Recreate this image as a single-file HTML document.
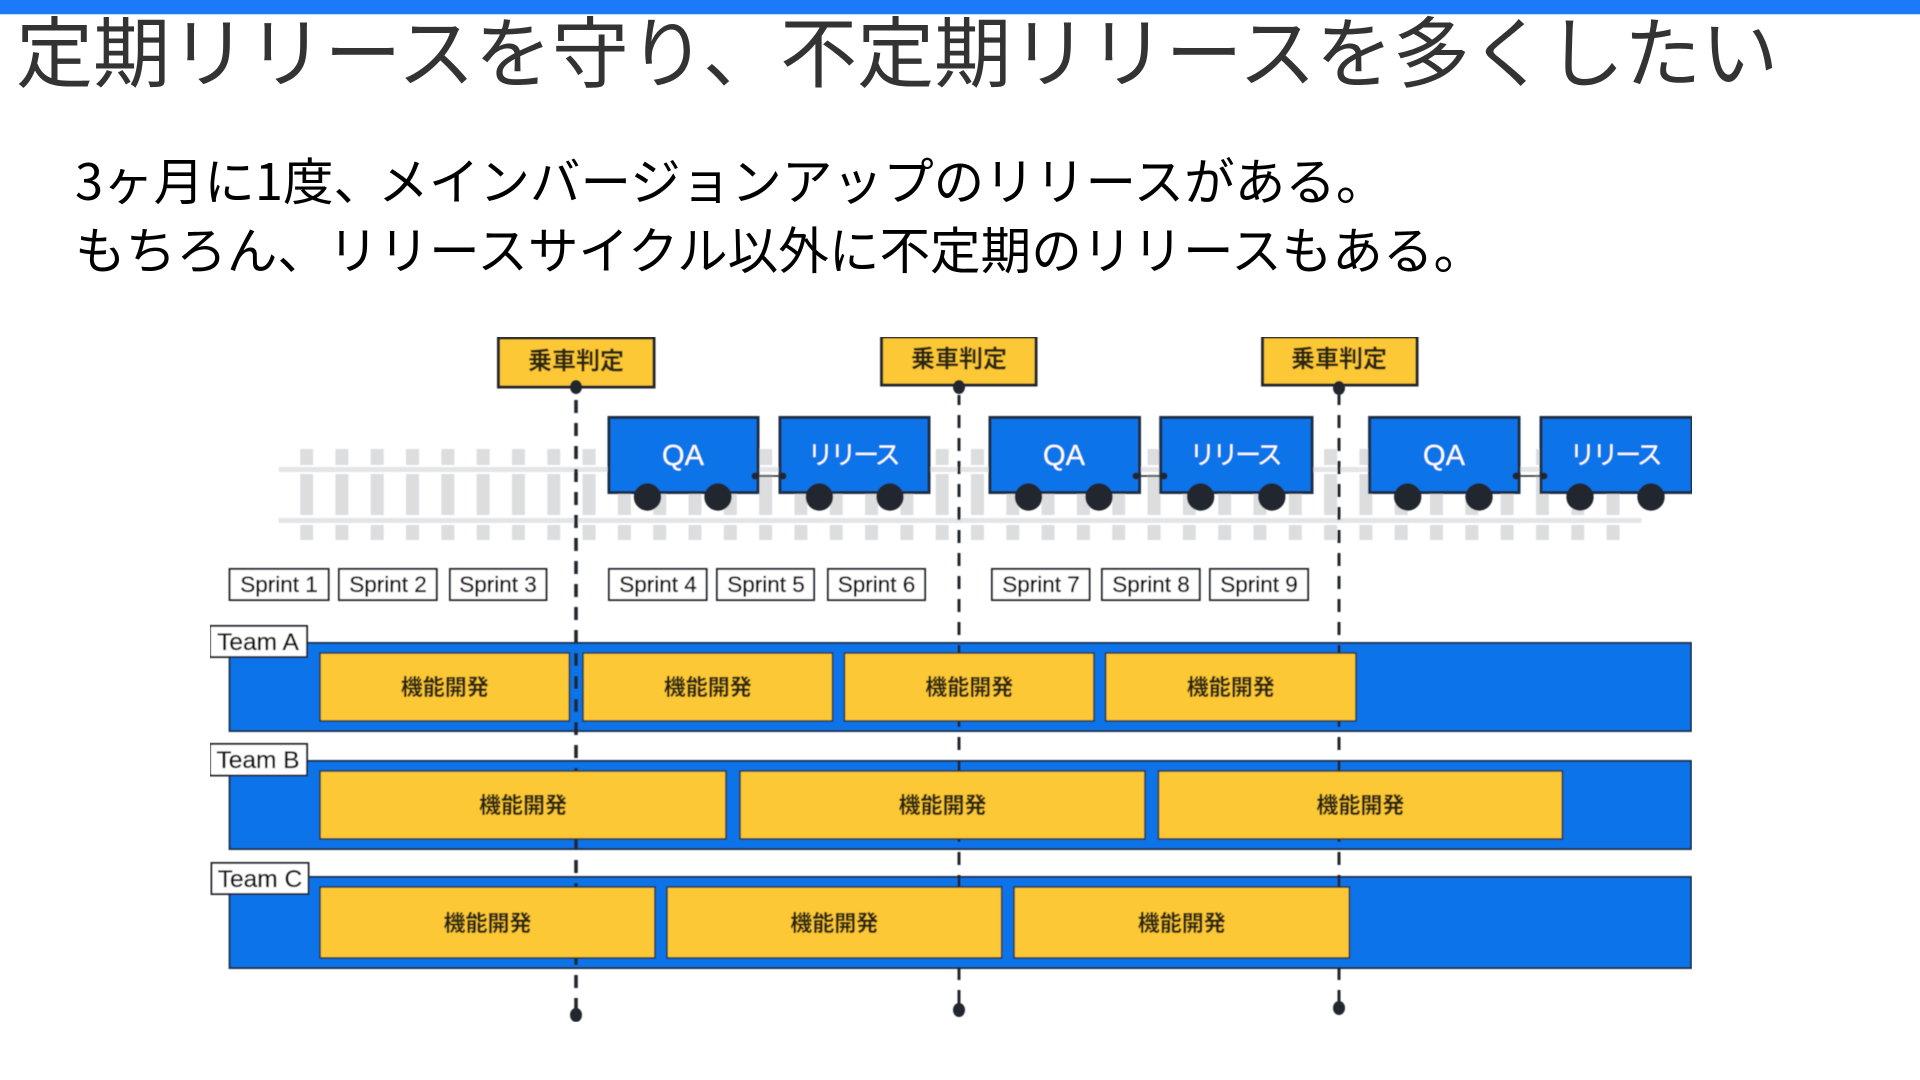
<!DOCTYPE html>
<html lang="ja">
<head>
<meta charset="utf-8">
<title>定期リリース</title>
<style>
html,body{margin:0;padding:0;background:#fff;width:1920px;height:1080px;overflow:hidden}
svg{display:block;position:absolute;left:0;top:0}
text{font-family:"Noto Sans CJK JP","Liberation Sans",sans-serif}
.lat{font-family:"Liberation Sans","Noto Sans CJK JP",sans-serif;stroke:#111;stroke-width:.35}
.latw{font-family:"Liberation Sans","Noto Sans CJK JP",sans-serif}
</style>
</head>
<body>
<svg width="1920" height="1080" viewBox="0 0 1920 1080" xmlns="http://www.w3.org/2000/svg">
<defs>
<pattern id="ties" patternUnits="userSpaceOnUse" x="300.1" y="449" width="35.31" height="91">
<rect x="0" y="0" width="13" height="16" fill="#dcdddf"/>
<rect x="0" y="25" width="13" height="41" fill="#dcdddf"/>
<rect x="0" y="76" width="13" height="15" fill="#dcdddf"/>
</pattern>
<filter id="soft" x="0" y="0" width="100%" height="100%"><feGaussianBlur stdDeviation="0.5"/></filter>
</defs>
<rect x="0" y="0" width="1920" height="14" fill="#1a7af8"/>
<rect x="0" y="14" width="1920" height="1" fill="#bfe0fb"/>
<text x="16" y="81" font-size="77.1" fill="#333">定期リリースを守り、不定期リリースを多くしたい</text>
<text x="75" y="200" font-size="50.6" fill="#000">3ヶ月に1度、<tspan dx="-6">メインバージョンアップのリリースがある。</tspan></text>
<text x="75" y="269" font-size="50.6" fill="#000">もちろん、リリースサイクル以外に不定期のリリースもある。</text>

<g filter="url(#soft)">
<!-- track -->
<rect x="300.1" y="449" width="1320" height="91" fill="url(#ties)"/>
<rect x="278.6" y="467" width="1363" height="5" fill="#e4e5e7"/>
<rect x="278.6" y="518" width="1363" height="5" fill="#e4e5e7"/>

<!-- sprints -->
<g fill="#fff" stroke="#24282e" stroke-width="2">
<rect x="229.6" y="569" width="99" height="31"/>
<rect x="339" y="569" width="97.7" height="31"/>
<rect x="450" y="569" width="96.4" height="31"/>
<rect x="609" y="569" width="97.6" height="31"/>
<rect x="717" y="569" width="97" height="31"/>
<rect x="828" y="569" width="97" height="31"/>
<rect x="992" y="569" width="97.5" height="31"/>
<rect x="1102" y="569" width="97.7" height="31"/>
<rect x="1210" y="569" width="98" height="31"/>
</g>
<g font-size="22.5" fill="#111" text-anchor="middle">
<text class="lat" x="279" y="592">Sprint 1</text>
<text class="lat" x="388" y="592">Sprint 2</text>
<text class="lat" x="498" y="592">Sprint 3</text>
<text class="lat" x="658" y="592">Sprint 4</text>
<text class="lat" x="766" y="592">Sprint 5</text>
<text class="lat" x="876.5" y="592">Sprint 6</text>
<text class="lat" x="1041" y="592">Sprint 7</text>
<text class="lat" x="1151" y="592">Sprint 8</text>
<text class="lat" x="1259" y="592">Sprint 9</text>
</g>

<!-- team bands -->
<g fill="#0a73e8" stroke="#1c3553" stroke-width="2">
<rect x="229.6" y="643" width="1461.4" height="88"/>
<rect x="229.6" y="761" width="1461.4" height="88"/>
<rect x="229.6" y="877" width="1461.4" height="91"/>
</g>

<!-- dashed lines -->
<g stroke="#23272e" stroke-dasharray="13 10" fill="none">
<line x1="576" y1="400" x2="576" y2="999" stroke-width="3.6"/>
<line x1="576" y1="998" x2="576" y2="1015" stroke-width="3.6" stroke-dasharray="none"/>
<line x1="959" y1="395" x2="959" y2="996" stroke-width="3" stroke-dashoffset="3"/>
<line x1="959" y1="991" x2="959" y2="1010" stroke-width="3" stroke-dasharray="none"/>
<line x1="1339" y1="395" x2="1339" y2="994" stroke-width="3" stroke-dashoffset="3"/>
<line x1="1339" y1="990" x2="1339" y2="1008" stroke-width="3" stroke-dasharray="none"/>
</g>

<!-- yellow blocks -->
<g fill="#fdc835" stroke="#2a3442" stroke-width="1.6">
<rect x="320" y="653" width="249.4" height="68"/>
<rect x="583" y="653" width="249.6" height="68"/>
<rect x="844.4" y="653" width="249.6" height="68"/>
<rect x="1105.6" y="653" width="250.4" height="68"/>
<rect x="320" y="771" width="406" height="68"/>
<rect x="740" y="771" width="405" height="68"/>
<rect x="1158.4" y="771" width="404" height="68"/>
<rect x="320" y="887" width="335" height="71"/>
<rect x="667" y="887" width="334.7" height="71"/>
<rect x="1014" y="887" width="335.4" height="71"/>
</g>
<g font-size="22" fill="#2b2618" text-anchor="middle" font-weight="700">
<text x="444.7" y="695">機能開発</text>
<text x="707.8" y="695">機能開発</text>
<text x="969.2" y="695">機能開発</text>
<text x="1230.8" y="695">機能開発</text>
<text x="523" y="813">機能開発</text>
<text x="942.5" y="813">機能開発</text>
<text x="1360.4" y="813">機能開発</text>
<text x="487.5" y="931">機能開発</text>
<text x="834.3" y="931">機能開発</text>
<text x="1181.7" y="931">機能開発</text>
</g>

<!-- team labels -->
<g fill="#fff" stroke="#24282e" stroke-width="2">
<rect x="210" y="626" width="97" height="31"/>
<rect x="210" y="744" width="97" height="31.5"/>
<rect x="211.5" y="863" width="97" height="31"/>
</g>
<g font-size="24.5" fill="#111" text-anchor="middle">
<text class="lat" x="258" y="650">Team A</text>
<text class="lat" x="258" y="768">Team B</text>
<text class="lat" x="260" y="887">Team C</text>
</g>

<!-- judgement boxes -->
<g fill="#fdc835" stroke="#23272e" stroke-width="3">
<rect x="498.5" y="338" width="155.5" height="49"/>
<rect x="881.6" y="337" width="154.4" height="48"/>
<rect x="1262.6" y="337" width="154.4" height="48"/>
</g>
<g font-size="24" fill="#2b2618" text-anchor="middle" font-weight="700">
<text x="576" y="369">乗車判定</text>
<text x="959" y="367">乗車判定</text>
<text x="1339" y="367">乗車判定</text>
</g>
<g fill="#23272e">
<ellipse cx="576" cy="387" rx="6" ry="7"/>
<ellipse cx="959" cy="387" rx="6" ry="7"/>
<ellipse cx="1339" cy="388" rx="6" ry="7"/>
<ellipse cx="576" cy="1015" rx="6" ry="7"/>
<ellipse cx="959" cy="1010" rx="6" ry="7"/>
<ellipse cx="1339" cy="1008" rx="6" ry="7"/>
</g>

<!-- couplers -->
<g stroke="#222" stroke-width="1.5">
<line x1="755" y1="476" x2="783" y2="476"/>
<line x1="1136" y1="476" x2="1164" y2="476"/>
<line x1="1516" y1="476" x2="1544" y2="476"/>
</g>

<!-- carts -->
<g fill="#0a73e8" stroke="#1c2f45" stroke-width="3">
<rect x="609" y="417.5" width="149" height="75"/>
<rect x="780" y="417.5" width="149" height="75"/>
<rect x="990" y="417.5" width="149.5" height="75"/>
<rect x="1160.7" y="417.5" width="151.3" height="75"/>
<rect x="1369.6" y="417.5" width="149.4" height="75"/>
<rect x="1541" y="417.5" width="151" height="75"/>
</g>
<g fill="#22272e">
<circle cx="755" cy="476" r="3.5"/><circle cx="783" cy="476" r="3.5"/>
<circle cx="1136" cy="476" r="3.5"/><circle cx="1164" cy="476" r="3.5"/>
<circle cx="1516" cy="476" r="3.5"/><circle cx="1544" cy="476" r="3.5"/>
<circle cx="647.5" cy="497" r="13.7"/><circle cx="718" cy="497" r="13.7"/>
<circle cx="819.4" cy="497" r="13.7"/><circle cx="890" cy="497" r="13.7"/>
<circle cx="1028.5" cy="497" r="13.7"/><circle cx="1099" cy="497" r="13.7"/>
<circle cx="1200.6" cy="497" r="13.7"/><circle cx="1271.8" cy="497" r="13.7"/>
<circle cx="1407.7" cy="497" r="13.7"/><circle cx="1479" cy="497" r="13.7"/>
<circle cx="1580" cy="497" r="13.7"/><circle cx="1651" cy="497" r="13.7"/>
</g>
<g font-size="29" fill="#fff" text-anchor="middle">
<text class="latw" x="683" y="465">QA</text>
<text x="852.5" y="464" font-size="26" letter-spacing="-3.2">リリース</text>
<text class="latw" x="1064" y="465">QA</text>
<text x="1234.5" y="464" font-size="26" letter-spacing="-3.2">リリース</text>
<text class="latw" x="1444" y="465">QA</text>
<text x="1614.5" y="464" font-size="26" letter-spacing="-3.2">リリース</text>
</g>
</g>
</svg>
</body>
</html>
